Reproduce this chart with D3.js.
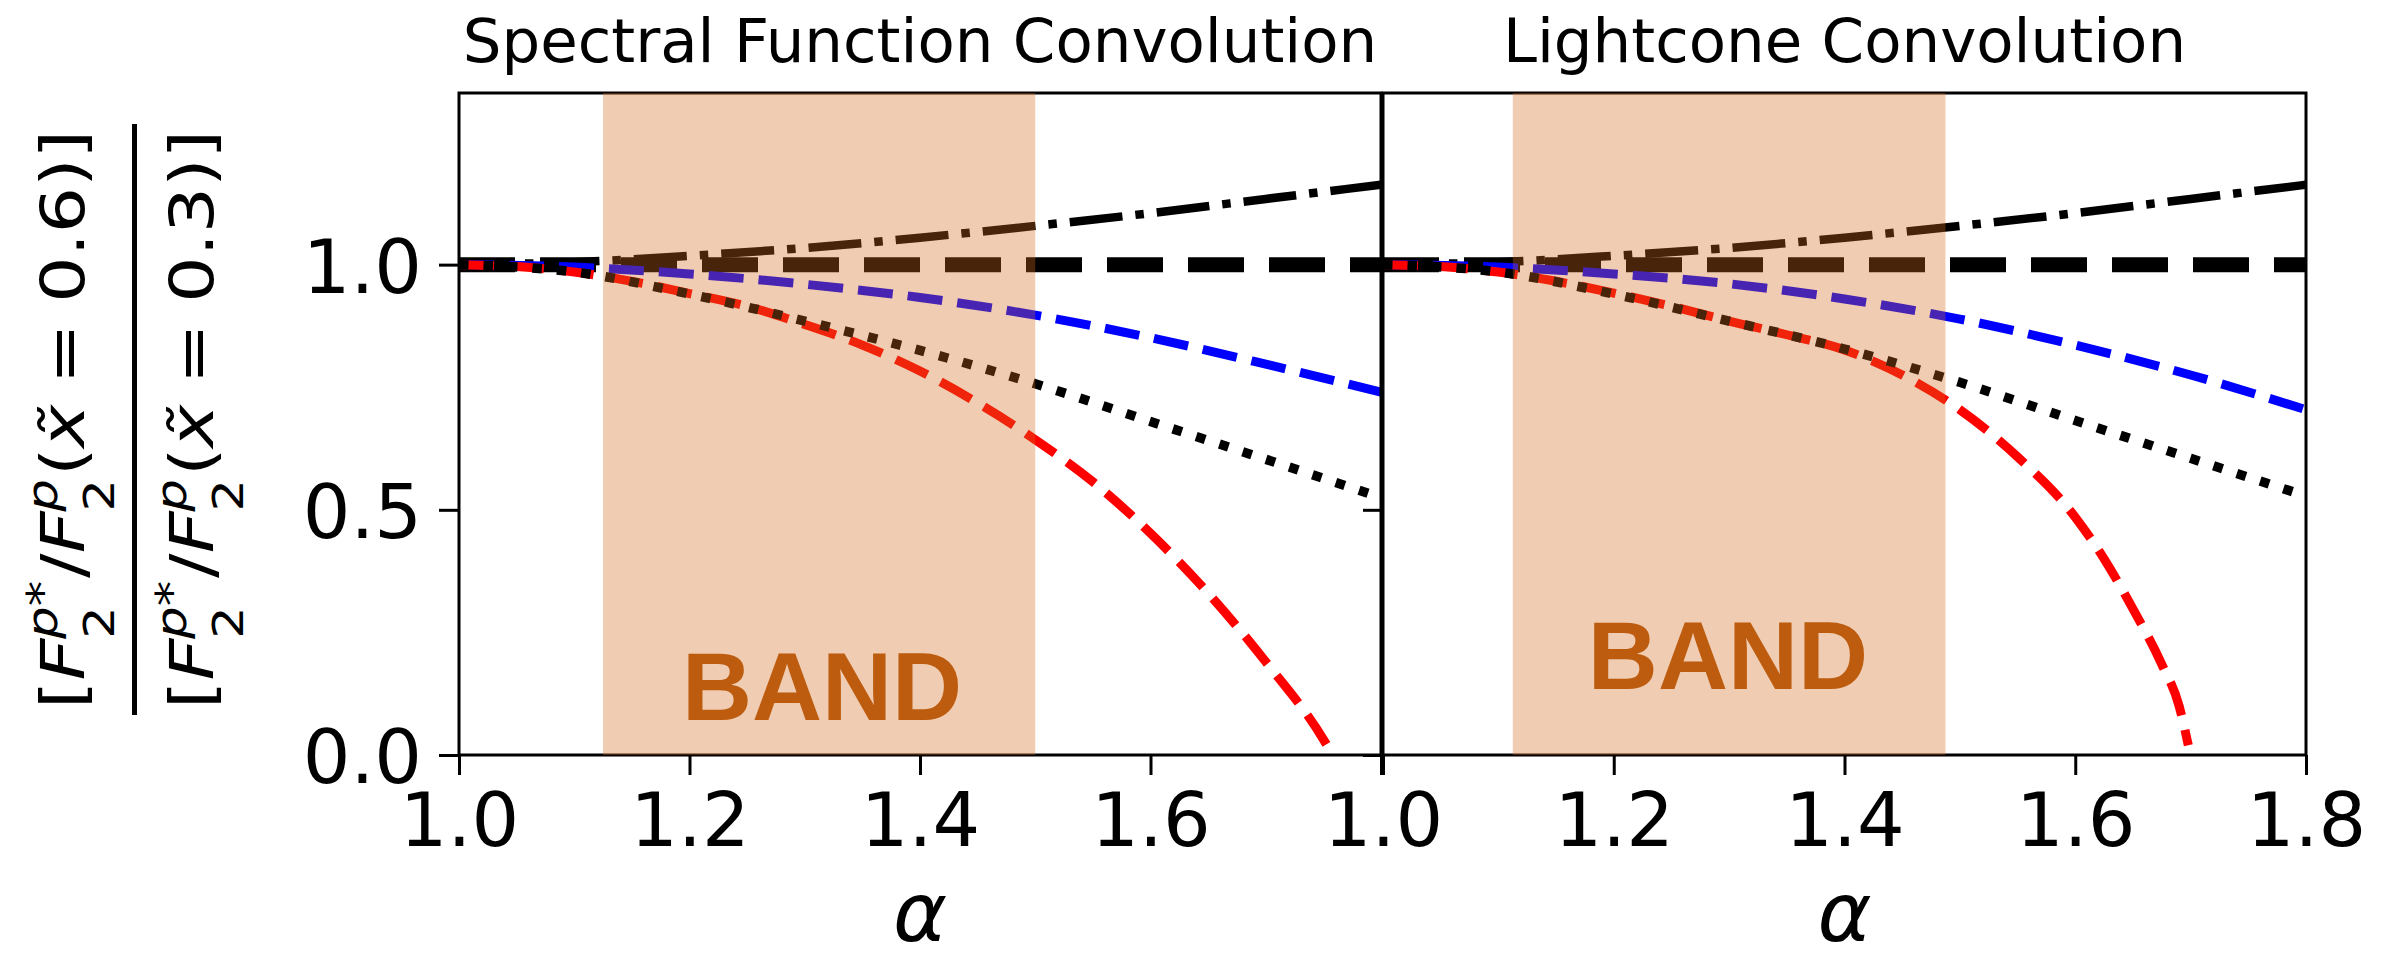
<!DOCTYPE html>
<html>
<head>
<meta charset="utf-8">
<script src="https://cdn.jsdelivr.net/npm/d3@7"></script>
<style>
  html, body { margin: 0; padding: 0; background: #fff; }
  svg { display: block; }
</style>
</head>
<body>
<svg id="chart" width="2384" height="961"></svg>
<script>
// ---- data -------------------------------------------------------------
const alphaGrid = [1.0, 1.1, 1.2, 1.3, 1.4, 1.5, 1.6, 1.7, 1.8];
const unityRatio = [1.0, 1.0, 1.0, 1.0, 1.0, 1.0, 1.0, 1.0, 1.0];
const dashDotRatio = [1.000, 1.005, 1.018, 1.034, 1.055, 1.079, 1.105, 1.134, 1.163];
const blueSpectral = [1.000, 0.995, 0.981, 0.960, 0.933, 0.897, 0.851, 0.797, 0.740];
const blueLightcone = [1.000, 0.995, 0.981, 0.961, 0.930, 0.889, 0.836, 0.775, 0.704];
const dottedSpectral = [1.000, 0.985, 0.940, 0.885, 0.825, 0.757, 0.680, 0.603, 0.525];
const dottedLightcone = [1.000, 0.985, 0.940, 0.885, 0.828, 0.760, 0.682, 0.605, 0.528];

const redAlphaSpectral = [1.0, 1.05, 1.1, 1.15, 1.2, 1.25, 1.3, 1.35, 1.4, 1.45, 1.5, 1.55, 1.6, 1.65, 1.7, 1.75, 1.758];
const redSpectral = [1.000, 0.996, 0.985, 0.966, 0.941, 0.915, 0.878, 0.836, 0.783, 0.718, 0.643, 0.557, 0.452, 0.330, 0.190, 0.032, 0.000];
const redAlphaLightcone = [1.0, 1.05, 1.1, 1.15, 1.2, 1.25, 1.3, 1.35, 1.4, 1.45, 1.5, 1.55, 1.6, 1.625, 1.65, 1.675, 1.69, 1.698];
const redLightcone = [1.000, 0.996, 0.985, 0.966, 0.942, 0.915, 0.885, 0.857, 0.826, 0.775, 0.704, 0.608, 0.485, 0.400, 0.298, 0.185, 0.100, 0.020];

const bandSpectral = [1.125, 1.5];
const bandLightcone = [1.1125, 1.4875];
const bandLabel = "BAND";
const bandLabelSpectral = [1.315, 0.071];
const bandLabelLightcone = [1.299, 0.135];

const panelTitles = ["Spectral Function Convolution", "Lightcone Convolution"];
const xDomain = [1.0, 1.8];
const yDomain = [0, 1.35];
const xTicks = [1.0, 1.2, 1.4, 1.6, 1.8];
const xTickLabels = ["1.0", "1.2", "1.4", "1.6", "1.8"];
const yTicks = [0.0, 0.5, 1.0];
const yTickLabels = ["0.0", "0.5", "1.0"];
const xLabel = "\u03b1";

// ---- layout & styles --------------------------------------------------
const FONT = "DejaVu Sans";
const plotTop = 93, plotBottom = 755;
const panelX = [[459, 1381], [1383, 2306]];
const styles = {
  unity:   { stroke: "#000000", width: 15,  dash: "56 25" },
  dashDot: { stroke: "#000000", width: 8.5, dash: "53 13 8.5 13" },
  blue:    { stroke: "#0000ff", width: 9,   dash: "35 15" },
  red:     { stroke: "#ff0000", width: 9,   dash: "35 15" },
  dotted:  { stroke: "#000000", width: 9.5, dash: "9.5 15" }
};

const svg = d3.select("#chart");
const y = d3.scaleLinear().domain(yDomain).range([plotBottom, plotTop]);

const panels = [
  {
    title: panelTitles[0], band: bandSpectral, labelAt: bandLabelSpectral, showYLabels: true,
    xLabels: (d, i) => (i === xTicks.length - 1 ? "" : xTickLabels[i]),
    series: [
      { key: "unity",   alpha: alphaGrid, v: unityRatio },
      { key: "dashDot", alpha: alphaGrid, v: dashDotRatio },
      { key: "blue",    alpha: alphaGrid, v: blueSpectral },
      { key: "red",     alpha: redAlphaSpectral, v: redSpectral },
      { key: "dotted",  alpha: alphaGrid, v: dottedSpectral }
    ]
  },
  {
    title: panelTitles[1], band: bandLightcone, labelAt: bandLabelLightcone, showYLabels: false,
    xLabels: (d, i) => xTickLabels[i],
    series: [
      { key: "unity",   alpha: alphaGrid, v: unityRatio },
      { key: "dashDot", alpha: alphaGrid, v: dashDotRatio },
      { key: "blue",    alpha: alphaGrid, v: blueLightcone },
      { key: "red",     alpha: redAlphaLightcone, v: redLightcone },
      { key: "dotted",  alpha: alphaGrid, v: dottedLightcone }
    ]
  }
];

panels.forEach((p, pi) => {
  const [x0, x1] = panelX[pi];
  const x = d3.scaleLinear().domain(xDomain).range([x0, x1]);
  const g = svg.append("g");

  const clipId = "clip" + pi;
  svg.append("clipPath").attr("id", clipId)
    .append("rect").attr("x", x0).attr("y", plotTop)
    .attr("width", x1 - x0).attr("height", plotBottom - plotTop);

  // curves
  const line = d3.line().x(d => x(d[0])).y(d => y(d[1])).curve(d3.curveMonotoneX);
  const lines = g.append("g").attr("clip-path", `url(#${clipId})`);
  p.series.forEach(s => {
    const st = styles[s.key];
    lines.append("path")
      .datum(s.alpha.map((a, i) => [a, s.v[i]]))
      .attr("d", line)
      .attr("fill", "none")
      .attr("stroke", st.stroke)
      .attr("stroke-width", st.width)
      .attr("stroke-dasharray", st.dash)
      .attr("stroke-linecap", "butt");
  });

  // axes
  const xAxis = g.append("g").attr("transform", `translate(0,${plotBottom})`)
    .call(d3.axisBottom(x).tickValues(xTicks).tickSize(20).tickFormat(p.xLabels));
  const yAxis = g.append("g").attr("transform", `translate(${x0},0)`)
    .call(d3.axisLeft(y).tickValues(yTicks).tickSize(20)
      .tickFormat((d, i) => (p.showYLabels ? yTickLabels[i] : "")));
  [xAxis, yAxis].forEach(a => {
    a.select(".domain").remove();
    a.selectAll(".tick line").attr("stroke", "#000").attr("stroke-width", 3);
    a.selectAll(".tick text").attr("font-family", FONT).attr("font-size", 75).attr("fill", "#000");
  });
  xAxis.selectAll(".tick text").attr("y", 91).attr("dy", null);
  yAxis.selectAll(".tick text").attr("x", -37).attr("dy", "0.365em");

  // frame
  g.append("rect").attr("x", x0).attr("y", plotTop)
    .attr("width", x1 - x0).attr("height", plotBottom - plotTop)
    .attr("fill", "none").attr("stroke", "#000").attr("stroke-width", 3);

  // shaded band, drawn over the curves
  g.append("rect")
    .attr("x", x(p.band[0])).attr("y", y(yDomain[1]))
    .attr("width", x(p.band[1]) - x(p.band[0]))
    .attr("height", y(yDomain[0]) - y(yDomain[1]))
    .attr("fill", "#d2691e").attr("fill-opacity", 0.34);

  g.append("text")
    .attr("x", x(p.labelAt[0])).attr("y", y(p.labelAt[1]))
    .attr("text-anchor", "middle")
    .attr("font-family", "Liberation Sans").attr("font-weight", "bold")
    .attr("font-size", 97).attr("fill", "#bd5c0e")
    .text(bandLabel);

  // title and x label
  g.append("text")
    .attr("x", (x0 + x1) / 2).attr("y", 62)
    .attr("text-anchor", "middle")
    .attr("font-family", FONT).attr("font-size", 61).attr("fill", "#000")
    .text(p.title);

  g.append("text")
    .attr("x", (x0 + x1) / 2).attr("y", 941)
    .attr("text-anchor", "middle")
    .attr("font-family", FONT).attr("font-style", "italic")
    .attr("font-size", 82).attr("fill", "#000")
    .text(xLabel);
});

// ---- y-axis label: ratio of two structure-function ratios ---------------
function rowTokens(xval) {
  return [
    { t: "[" },
    { t: "F", it: true },
    { scripts: [ { parts: [{ t: "2" }], shift: 0.5 },
                 { parts: [{ t: "p", it: true }, { t: "*" }], shift: -0.45 } ] },
    { t: "/" },
    { t: "F", it: true },
    { scripts: [ { parts: [{ t: "2" }], shift: 0.5 },
                 { parts: [{ t: "p", it: true }], shift: -0.45 } ] },
    { t: "(" },
    { t: "x\u0303", it: true },
    { t: "=", padL: 0.28, padR: 0.28 },
    { t: xval },
    { t: ")" },
    { t: "]" }
  ];
}

function layoutRow(parent, tokens, fs, baseline) {
  const row = parent.append("g");
  let cx = 0;
  tokens.forEach(tok => {
    if (tok.scripts) {
      let w = 0;
      tok.scripts.forEach(s => {
        const t = row.append("text").attr("x", cx).attr("y", baseline + s.shift * fs)
          .attr("font-family", FONT).attr("font-size", fs * 0.7).attr("fill", "#000");
        s.parts.forEach(pt => t.append("tspan").attr("font-style", pt.it ? "italic" : "normal").text(pt.t));
        w = Math.max(w, t.node().getComputedTextLength());
      });
      cx += w + 0.04 * fs;
    } else {
      cx += (tok.padL || 0) * fs;
      const t = row.append("text").attr("x", cx).attr("y", baseline)
        .attr("font-family", FONT).attr("font-size", fs).attr("fill", "#000")
        .attr("font-style", tok.it ? "italic" : "normal").text(tok.t);
      cx += t.node().getComputedTextLength() + (tok.padR || 0) * fs;
    }
  });
  row.attr("transform", `translate(${-cx / 2},0)`);
  return cx;
}

const labelCx = 134.5, labelCy = 419.5;
const yLabel = svg.append("g").attr("transform", `translate(${labelCx},${labelCy}) rotate(-90)`);
const stretch = yLabel.append("g");
const wNum = layoutRow(stretch, rowTokens("0.6"), 60, -51);
const wDen = layoutRow(stretch, rowTokens("0.3"), 60, 79);
const k = 579 / Math.max(wNum, wDen);
stretch.attr("transform", `scale(${k},1)`);
yLabel.append("line")
  .attr("x1", -295.5).attr("x2", 295.5).attr("y1", 0).attr("y2", 0)
  .attr("stroke", "#000").attr("stroke-width", 5);
</script>
</body>
</html>
